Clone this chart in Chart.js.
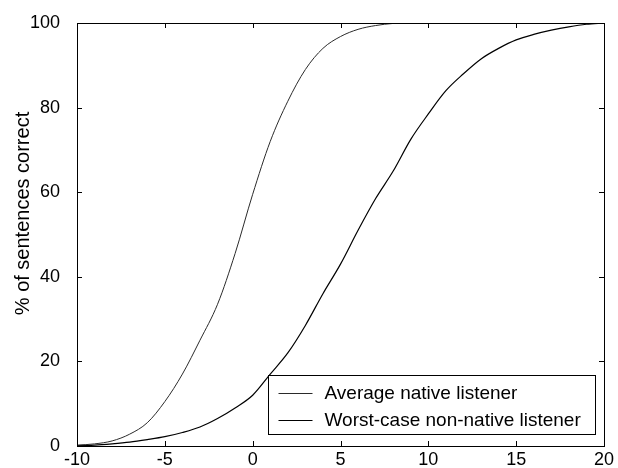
<!DOCTYPE html>
<html>
<head>
<meta charset="utf-8">
<script src="https://cdn.jsdelivr.net/npm/chart.js@4.4.1/dist/chart.umd.min.js"></script>
<style>
  html, body { margin: 0; padding: 0; background: #fff; }
  #wrap { width: 618px; height: 468px; }
</style>
</head>
<body>
<div id="wrap"><canvas id="snrChart" width="618" height="468"></canvas></div>
<script>
// SNR (dB) sample points
let snr = [-10,-9,-8,-7,-6,-5,-4,-3,-2,-1,0,1,2,3,4,5,6,7,8,9,10,11,12,13,14,15,16,17,18,19,20];
// % of sentences correct
let avgNative = [0.2,0.5,1.2,2.8,5.5,10.5,17,25,33.5,45.5,59.5,72,81.5,89,94,96.8,98.5,99.4,99.9,100,100,100,100,100,100,100,100,100,100,100,100];
let worstNonNative = [0.1,0.2,0.5,0.9,1.5,2.2,3.2,4.5,6.5,9,12,17,22,28.5,36,43,51,58.5,65,72.5,78.5,84,88,91.5,94,96,97.3,98.3,99.1,99.7,100];
let seriesNames = ["Average native listener", "Worst-case non-native listener"];
let xTicks = [-10,-5,0,5,10,15,20];
let yTicks = [0,20,40,60,80,100];
let yTitle = "% of sentences correct";

const FONT = "'Liberation Sans', Arial, Helvetica, sans-serif";

function pairs(ys){
	return snr.map((x,i)=>({x:x, y:ys[i]}));
}

// frame, inward ticks on all four sides, y title, legend box in the lower right
const framePlugin = {
	id: 'frame',
	afterDraw(chart){
		const ctx = chart.ctx;
		const a = chart.chartArea;
		const xs = chart.scales.x, ys = chart.scales.y;
		ctx.save();
		ctx.strokeStyle = '#000';
		ctx.lineWidth = 1;
		ctx.strokeRect(Math.round(a.left)+0.5, Math.round(a.top)+0.5, Math.round(a.right-a.left), Math.round(a.bottom-a.top));
		ctx.beginPath();
		xTicks.forEach(v=>{
			const px = Math.round(xs.getPixelForValue(v))+0.5;
			ctx.moveTo(px, a.bottom); ctx.lineTo(px, a.bottom-5);
			ctx.moveTo(px, a.top); ctx.lineTo(px, a.top+5);
		});
		yTicks.forEach(v=>{
			const py = Math.round(ys.getPixelForValue(v))+0.5;
			ctx.moveTo(a.left, py); ctx.lineTo(a.left+5, py);
			ctx.moveTo(a.right, py); ctx.lineTo(a.right-5, py);
		});
		ctx.stroke();

		// y axis title, sits a bit above the middle of the axis
		ctx.save();
		ctx.translate(23, (a.top+a.bottom)/2 - 21);
		ctx.rotate(-Math.PI/2);
		ctx.font = '20px ' + FONT;
		ctx.fillStyle = '#000';
		ctx.textAlign = 'center';
		ctx.textBaseline = 'middle';
		ctx.fillText(yTitle, 0, 0);
		ctx.restore();

		// legend
		const bx = Math.round(a.right-336)+0.5, by = Math.round(a.bottom-71)+0.5;
		const bw = 327, bh = 59;
		ctx.fillStyle = '#fff';
		ctx.fillRect(bx, by, bw, bh);
		ctx.strokeStyle = '#000';
		ctx.lineWidth = 1;
		ctx.strokeRect(bx, by, bw, bh);
		ctx.font = '19px ' + FONT;
		ctx.textBaseline = 'middle';
		ctx.textAlign = 'left';
		chart.data.datasets.forEach((ds,i)=>{
			const ly = Math.round(by + 17 + i*27)+0.5;
			ctx.strokeStyle = ds.borderColor;
			ctx.lineWidth = ds.borderWidth;
			ctx.beginPath();
			ctx.moveTo(bx+10, ly); ctx.lineTo(bx+44, ly);
			ctx.stroke();
			ctx.fillStyle = '#000';
			ctx.fillText(ds.label, bx+56, ly);
		});
		ctx.restore();
	}
};

new Chart(document.getElementById("snrChart"), {
	type: 'line',
	data: {
		datasets: [
			{
				label: seriesNames[0],
				data: pairs(avgNative),
				borderColor: '#2a2a2a',
				borderWidth: 1,
				pointRadius: 0,
				cubicInterpolationMode: 'monotone'
			},
			{
				label: seriesNames[1],
				data: pairs(worstNonNative),
				borderColor: '#000',
				borderWidth: 1.2,
				pointRadius: 0,
				cubicInterpolationMode: 'monotone'
			}
		]
	},
	plugins: [framePlugin],
	options: {
		responsive: false,
		animation: false,
		layout: { padding: { top: 23, right: 14, left: 0, bottom: 0 } },
		plugins: {
			legend: { display: false },
			tooltip: { enabled: false }
		},
		scales: {
			x: {
				type: 'linear',
				min: -10, max: 20,
				afterBuildTicks: s => { s.ticks = xTicks.map(v=>({value:v})); },
				afterFit: s => { s.height = 22; },
				grid: { display: false },
				border: { display: false },
				ticks: { color: '#000', font: { family: FONT, size: 18 }, padding: -5, maxRotation: 0 }
			},
			y: {
				min: 0, max: 100,
				afterBuildTicks: s => { s.ticks = yTicks.map(v=>({value:v})); },
				afterFit: s => { s.width = 77; },
				grid: { display: false },
				border: { display: false },
				ticks: { color: '#000', font: { family: FONT, size: 18 }, padding: 9 }
			}
		}
	}
});
</script>
</body>
</html>
